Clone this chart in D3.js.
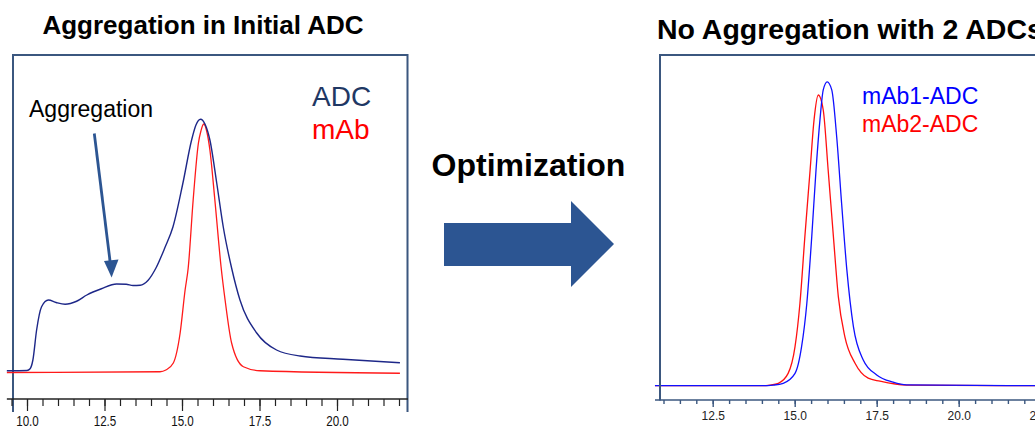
<!DOCTYPE html>
<html>
<head>
<meta charset="utf-8">
<script src="https://cdn.jsdelivr.net/npm/d3@7"></script>
<style>
  body { margin: 0; background: #fff; }
  svg { display: block; font-family: "Liberation Sans", Arial, sans-serif; }
</style>
</head>
<body>
<svg id="chart" width="1035" height="429"></svg>
<script>
"use strict";

// Left panel: initial ADC vs naked mAb (retention time, min / relative signal)
const adcTime = [9.35, 10.0, 10.1, 10.19, 10.31, 10.47, 10.69, 10.94, 11.23, 11.6, 11.93, 12.4, 12.89, 13.2, 13.42, 13.65, 13.9, 14.16, 14.45, 14.71, 15.03, 15.31, 15.45, 15.6, 15.74, 15.9, 16.12, 16.33, 16.6, 16.87, 17.41, 18.05, 18.81, 20.19, 22.03];
const adcSignal = [0.7, 0.8, 1.5, 5.0, 17, 26.3, 29, 28, 27.3, 28.5, 31, 33.5, 35.4, 35.3, 34.8, 34.9, 36.8, 41.8, 50, 58.3, 75.8, 93, 99, 101.3, 99.4, 93, 75.8, 58.3, 41.8, 29, 15.8, 9, 6.6, 5.3, 3.9];
const mabTime = [9.35, 14.29, 14.48, 14.72, 14.94, 15.1, 15.2, 15.36, 15.53, 15.61, 15.7, 15.81, 15.9, 16.06, 16.26, 16.39, 16.6, 16.98, 17.52, 22.03];
const mabSignal = [0, 0.3, 1, 3.8, 15.8, 33, 41.8, 69, 91.8, 96.6, 99.4, 95.8, 89, 69, 42.3, 29, 11.8, 2.3, 0.7, -0.3];

// Right panel: two optimised ADCs
const mab1Time = [10.74, 14.0, 14.35, 14.65, 15.01, 15.21, 15.37, 15.52, 15.65, 15.77, 15.87, 15.99, 16.13, 16.28, 16.43, 16.59, 16.79, 17.09, 17.5, 18.0, 18.41, 22.6];
const mab1Signal = [0, 0, 0.2, 0.8, 4.1, 13, 27.5, 49.7, 71.9, 88.6, 98.6, 101.3, 98.6, 83, 60.8, 38.6, 19.7, 8.6, 3.6, 1.2, 0.3, 0];
const mab2Time = [10.74, 14.0, 14.25, 14.5, 14.8, 15.01, 15.16, 15.31, 15.47, 15.59, 15.72, 15.87, 16.02, 16.18, 16.33, 16.53, 16.84, 17.24, 17.6, 18.41, 22.6];
const mab2Signal = [0, 0, 0.2, 0.8, 4.1, 13, 27.5, 49.7, 71.9, 88.6, 96.9, 91.9, 71.9, 49.7, 29.7, 16.3, 7.5, 2.5, 1.5, 0.2, 0];

// Tick labels
const leftMajorTicks = [10, 12.5, 15, 17.5, 20, 22.5];
const rightMajorTicks = [12.5, 15, 17.5, 20, 22.5];

const titles = ["Aggregation in Initial ADC", "No Aggregation with 2 ADCs"];

const svg = d3.select("#chart");
const frameColor = "#3b577f";
const arrowColor = "#2c5592";

function zip(t, v) {
  return t.map((d, i) => ({ t: d, v: v[i] }));
}

// ---------- left panel ----------
const left = {};
left.x = d3.scaleLinear().domain([10, 20]).range([27, 337]);
left.y = d3.scaleLinear().domain([0, 100]).range([372.5, 122.5]);
left.line = d3.line()
  .x(d => left.x(d.t))
  .y(d => left.y(d.v))
  .curve(d3.curveMonotoneX);

svg.append("clipPath").attr("id", "clipL")
  .append("rect").attr("x", 0).attr("y", 0).attr("width", 403).attr("height", 429);

left.g = svg.append("g");

left.g.append("path")
  .attr("d", "M13,412 V55 H407.5 V412")
  .attr("fill", "none")
  .attr("stroke", frameColor)
  .attr("stroke-width", 2);

left.g.append("path")
  .datum(zip(mabTime, mabSignal))
  .attr("d", left.line)
  .attr("fill", "none")
  .attr("stroke", "#ff1a1a")
  .attr("stroke-width", 1.3);

left.g.append("path")
  .datum(zip(adcTime, adcSignal))
  .attr("d", left.line)
  .attr("fill", "none")
  .attr("stroke", "#1d2788")
  .attr("stroke-width", 1.4);

// axis
left.axisY = 399;
left.g.append("line")
  .attr("x1", left.x(9.35)).attr("x2", 408)
  .attr("y1", left.axisY).attr("y2", left.axisY)
  .attr("stroke", "#222").attr("stroke-width", 1.3);

left.minor = left.g.append("g")
  .attr("transform", "translate(0," + left.axisY + ")")
  .call(d3.axisBottom(left.x).tickValues(d3.range(9.5, 22.01, 0.5)).tickSize(7).tickFormat(""));
left.major = left.g.append("g")
  .attr("clip-path", "url(#clipL)")
  .append("g")
  .attr("transform", "translate(0," + left.axisY + ")")
  .call(d3.axisBottom(left.x).tickValues(leftMajorTicks).tickSize(12).tickFormat(d3.format(".1f")));
[left.minor, left.major].forEach(a => {
  a.select(".domain").remove();
  a.selectAll(".tick line").attr("stroke", "#222").attr("stroke-width", 1.2);
});
left.major.selectAll(".tick text")
  .attr("y", 16)
  .attr("dy", "0.71em")
  .attr("transform", "scale(0.75,1)")
  .style("font-size", "15.5px")
  .style("font-family", "'Liberation Sans', Arial, sans-serif")
  .attr("fill", "#111");

// legend + annotation
left.g.append("text").attr("x", 312).attr("y", 105.5)
  .attr("fill", "#1f3864").style("font-size", "28px").text("ADC");
left.g.append("text").attr("x", 312).attr("y", 139)
  .attr("fill", "#ff0000").style("font-size", "28px").text("mAb");
left.g.append("text").attr("x", 29).attr("y", 117)
  .attr("fill", "#000").style("font-size", "23px").text("Aggregation");

left.g.append("line")
  .attr("x1", 94.3).attr("y1", 133.5)
  .attr("x2", 110.5).attr("y2", 265)
  .attr("stroke", arrowColor).attr("stroke-width", 2.8);
left.g.append("path")
  .attr("d", "M104,261 L118.5,259.5 L111.6,277.5 Z")
  .attr("fill", arrowColor);

svg.append("text")
  .attr("x", 203).attr("y", 34)
  .attr("text-anchor", "middle")
  .style("font-size", "26px").style("font-weight", "bold")
  .text(titles[0]);

// ---------- middle arrow ----------
svg.append("text")
  .attr("x", 528.5).attr("y", 176)
  .attr("text-anchor", "middle")
  .style("font-size", "32px").style("font-weight", "bold")
  .text("Optimization");
svg.append("path")
  .attr("d", "M444,223 H571 V201 L614,244 L571,287 V266 H444 Z")
  .attr("fill", arrowColor);

// ---------- right panel ----------
const right = {};
right.x = d3.scaleLinear().domain([12.5, 20]).range([712.7, 958.7]);
right.y = d3.scaleLinear().domain([0, 100]).range([385.7, 85.7]);
right.line = d3.line()
  .x(d => right.x(d.t))
  .y(d => right.y(d.v))
  .curve(d3.curveMonotoneX);

right.g = svg.append("g");

right.g.append("path")
  .datum(zip(mab2Time, mab2Signal))
  .attr("d", right.line)
  .attr("fill", "none")
  .attr("stroke", "#ff1010")
  .attr("stroke-width", 1.3);

right.g.append("path")
  .datum(zip(mab1Time, mab1Signal))
  .attr("d", right.line)
  .attr("fill", "none")
  .attr("stroke", "#1010ff")
  .attr("stroke-width", 1.3);

right.g.append("path")
  .attr("d", "M660,400.5 V55 H1040")
  .attr("fill", "none")
  .attr("stroke", frameColor)
  .attr("stroke-width", 2);

right.axisY = 400;
right.g.append("line")
  .attr("x1", 655).attr("x2", 1035)
  .attr("y1", right.axisY).attr("y2", right.axisY)
  .attr("stroke", frameColor).attr("stroke-width", 1.6);

right.minor = right.g.append("g")
  .attr("transform", "translate(0," + right.axisY + ")")
  .call(d3.axisBottom(right.x).tickValues(d3.range(11, 23.01, 0.5)).tickSize(4).tickFormat(""));
right.major = right.g.append("g")
  .attr("transform", "translate(0," + right.axisY + ")")
  .call(d3.axisBottom(right.x).tickValues(rightMajorTicks).tickSize(7).tickFormat(d3.format(".1f")));
[right.minor, right.major].forEach(a => {
  a.select(".domain").remove();
  a.selectAll(".tick line").attr("stroke", frameColor).attr("stroke-width", 1.4);
});
right.major.selectAll(".tick text")
  .attr("y", 11)
  .attr("dy", "0.71em")
  .style("font-size", "12px")
  .style("font-family", "'Liberation Sans', Arial, sans-serif")
  .attr("fill", "#222");

right.g.append("text").attr("x", 862).attr("y", 104.3)
  .attr("fill", "#0000ff").style("font-size", "23px").text("mAb1-ADC");
right.g.append("text").attr("x", 862).attr("y", 132.3)
  .attr("fill", "#ff0000").style("font-size", "23px").text("mAb2-ADC");

svg.append("text")
  .attr("x", 657).attr("y", 39)
  .style("font-size", "28.5px").style("font-weight", "bold")
  .text(titles[1]);
</script>
</body>
</html>
